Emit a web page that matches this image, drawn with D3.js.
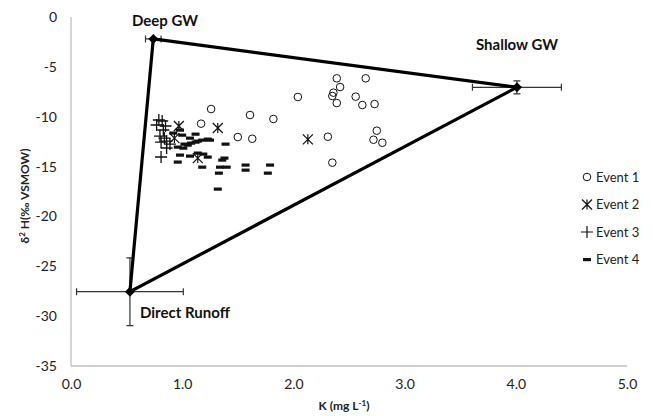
<!DOCTYPE html>
<html><head><meta charset="utf-8">
<script src="https://cdn.jsdelivr.net/npm/d3@7"></script>
<style>body{margin:0;background:#fff}svg{display:block}text{font-family:Lato,"Open Sans",sans-serif}</style>
</head><body><svg id="c" width="653" height="416"></svg>
<script>
const xTicks=[0,1,2,3,4,5];
const yTicks=[0,-5,-10,-15,-20,-25,-30,-35];
const event1=[[2.39,-6.15],[2.65,-6.15],[2.42,-7.02],[2.36,-7.59],[2.35,-7.92],[2.04,-8.02],[2.56,-7.99],[2.39,-8.63],[2.62,-8.83],[2.73,-8.73],[1.61,-9.83],[1.82,-10.23],[2.75,-11.40],[1.50,-12.04],[1.63,-12.21],[2.31,-12.01],[2.72,-12.31],[2.80,-12.61],[2.35,-14.61],[1.26,-9.23],[1.17,-10.70]];
const event2=[[0.97,-10.93],[1.32,-11.13],[0.93,-12.14],[1.14,-14.15],[2.13,-12.27]];
const event3=[[0.79,-10.33],[0.82,-10.43],[0.77,-10.83],[0.85,-10.93],[0.83,-11.33],[0.80,-11.94],[0.84,-12.14],[0.86,-12.44],[0.81,-12.54],[0.89,-12.74],[0.86,-13.14],[0.81,-14.04]];
const event4=[[0.92,-11.63],[0.98,-11.33],[1.00,-11.84],[1.12,-11.74],[1.07,-12.14],[1.02,-12.74],[1.05,-12.84],[1.08,-12.64],[1.12,-12.54],[1.14,-12.44],[1.18,-12.34],[1.23,-12.24],[1.25,-12.34],[1.39,-12.74],[0.96,-13.04],[1.01,-13.14],[0.98,-13.84],[0.96,-14.54],[1.07,-13.94],[1.14,-13.64],[1.19,-13.74],[1.23,-14.04],[1.38,-14.14],[1.36,-14.34],[1.18,-15.05],[1.34,-15.05],[1.40,-15.05],[1.33,-15.65],[1.32,-17.25],[1.57,-14.84],[1.57,-15.35],[1.79,-14.84],[1.77,-15.65]];
const endNames=["Deep GW","Shallow GW","Direct Runoff"];
const endX=[0.74,4.01,0.53];
const endY=[-2.2,-7.05,-27.55];
const endXErr=[0.07,0.40,0.48];
const endYErr=[0,0.65,3.4];
const legendNames=["Event 1","Event 2","Event 3","Event 4"];

const svg=d3.select("#c");
const x=d3.scaleLinear().domain([0,5]).range([71,627]);
const y=d3.scaleLinear().domain([-35,0]).range([366,17]);
const axisCol="#bfbfbf";

// axes
const gx=svg.append("g").attr("transform","translate(0,366)").call(d3.axisBottom(x).tickValues(xTicks).tickSize(0).tickPadding(13).tickFormat(d3.format(".1f")));
const gy=svg.append("g").attr("transform","translate(71,0)").call(d3.axisLeft(y).tickValues(yTicks).tickSize(0).tickPadding(14).tickFormat(d=>d));
[gx,gy].forEach(g=>{g.select(".domain").attr("stroke",axisCol).attr("stroke-width",1.3);g.selectAll("text").attr("font-size",14).attr("fill","#222");});
gx.select(".domain").attr("d","M71,0H627");
gy.select(".domain").attr("d","M0,17V366");

// titles
svg.append("text").attr("x",344).attr("y",410).attr("text-anchor","middle").attr("font-weight","bold").attr("font-size",12).attr("fill","#222")
  .html('K (mg L<tspan dy="-4" font-size="8">-1</tspan><tspan dy="4">)</tspan>');
svg.append("text").attr("transform","translate(29,196) rotate(-90)").attr("text-anchor","middle").attr("font-weight","bold").attr("font-size",12).attr("fill","#222")
  .html('δ<tspan dy="-4" font-size="8">2</tspan><tspan dy="4"> H(‰ VSMOW)</tspan>');

// scatter markers
const g=svg.append("g");
g.selectAll(".e4").data(event4).join("rect").attr("x",d=>x(d[0])-4).attr("y",d=>y(d[1])-1.5).attr("width",8).attr("height",3.2).attr("fill","#111");
g.selectAll(".e3").data(event3).join("path").attr("d",d=>{const cx=x(d[0]),cy=y(d[1]);return `M${cx-6},${cy}H${cx+6}M${cx},${cy-6}V${cy+6}`;}).attr("stroke","#111").attr("stroke-width",1.3);
g.selectAll(".e2").data(event2).join("path").attr("d",d=>{const cx=x(d[0]),cy=y(d[1]);return `M${cx-5},${cy-5}L${cx+5},${cy+5}M${cx+5},${cy-5}L${cx-5},${cy+5}M${cx},${cy-5}V${cy+5}`;}).attr("stroke","#111").attr("stroke-width",1.2);
g.selectAll(".e1").data(event1).join("circle").attr("cx",d=>x(d[0])).attr("cy",d=>y(d[1])).attr("r",3.8).attr("fill","none").attr("stroke","#111").attr("stroke-width",1);

// error bars
const eb=svg.append("g").attr("stroke","#333").attr("stroke-width",1.2);
endX.forEach((ex,i)=>{
  const cx=x(ex),cy=y(endY[i]);
  if(endXErr[i]>0){const x0=x(ex-endXErr[i]),x1=x(ex+endXErr[i]);
    eb.append("path").attr("d",`M${x0},${cy}H${x1}M${x0},${cy-3.5}V${cy+3.5}M${x1},${cy-3.5}V${cy+3.5}`);}
  if(endYErr[i]>0){const y0=y(endY[i]+endYErr[i]),y1=y(endY[i]-endYErr[i]);
    eb.append("path").attr("d",`M${cx},${y0}V${y1}M${cx-3.5},${y0}H${cx+3.5}M${cx-3.5},${y1}H${cx+3.5}`);}
});

// triangle
const tri=[0,1,2,0].map(i=>[endX[i],endY[i]]);
svg.append("path").datum(tri).attr("d",d3.line().x(d=>x(d[0])).y(d=>y(d[1]))).attr("fill","none").attr("stroke","#000").attr("stroke-width",3.2).attr("stroke-linejoin","miter");
svg.selectAll(".dia").data(endX).join("path").attr("d",(d,i)=>{const cx=x(d),cy=y(endY[i]),r=5;return `M${cx},${cy-r}L${cx+r},${cy}L${cx},${cy+r}L${cx-r},${cy}Z`;}).attr("fill","#000");

// end member labels
const labPos=[[165,26,"middle"],[517,50,"middle"],[140,318,"start"]];
endNames.forEach((n,i)=>svg.append("text").attr("x",labPos[i][0]).attr("y",labPos[i][1]).attr("text-anchor",labPos[i][2]).attr("font-weight","bold").attr("font-size",15).attr("fill","#111").text(n));

// legend
const lg=svg.append("g");
legendNames.forEach((n,i)=>{
  const cy=177+i*27.5,cx=587;
  if(i===0) lg.append("circle").attr("cx",cx).attr("cy",cy).attr("r",3.8).attr("fill","none").attr("stroke","#111");
  if(i===1) lg.append("path").attr("d",`M${cx-5},${cy-5}L${cx+5},${cy+5}M${cx+5},${cy-5}L${cx-5},${cy+5}M${cx},${cy-5}V${cy+5}`).attr("stroke","#111").attr("stroke-width",1.2);
  if(i===2) lg.append("path").attr("d",`M${cx-6},${cy}H${cx+6}M${cx},${cy-6}V${cy+6}`).attr("stroke","#111").attr("stroke-width",1.2);
  if(i===3) lg.append("rect").attr("x",cx-4).attr("y",cy-1.5).attr("width",8).attr("height",3.2).attr("fill","#111");
  lg.append("text").attr("x",596).attr("y",cy+4.5).attr("font-size",13).attr("fill","#222").text(n);
});
</script></body></html>
